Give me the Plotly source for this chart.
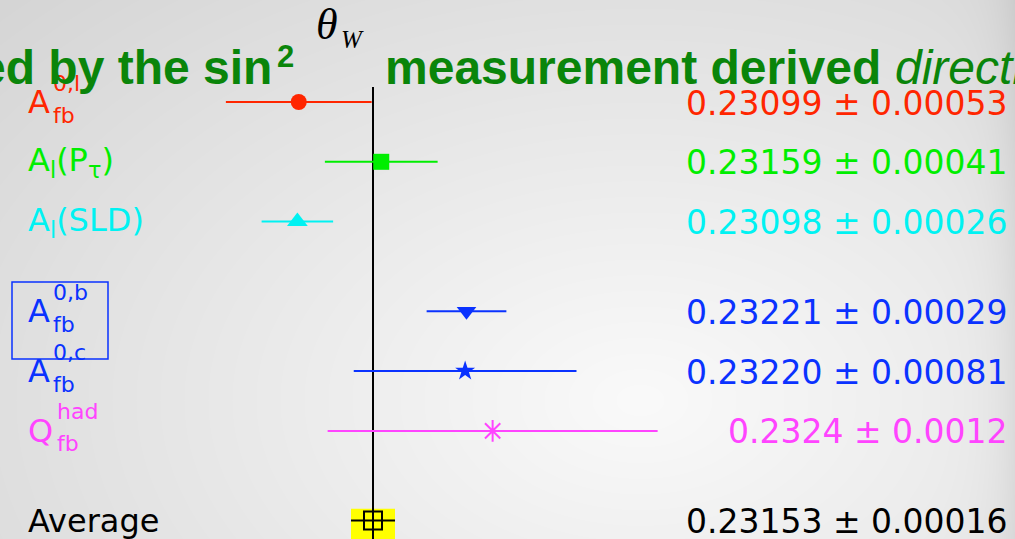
import base64
import struct
import zlib

import numpy as np
import plotly.graph_objects as go

# ---- data -------------------------------------------------------------
measurements = ["A_fb^0,l", "A_l(P_tau)", "A_l(SLD)", "A_fb^0,b", "A_fb^0,c", "Q_fb^had", "Average"]
values = [0.23099, 0.23159, 0.23098, 0.23221, 0.23220, 0.2324, 0.23153]
errors = [0.00053, 0.00041, 0.00026, 0.00029, 0.00081, 0.0012, 0.00016]
decimals = [5, 5, 5, 5, 5, 4, 5]

# label pieces: (main text, superscript, subscript)
label_parts = [
    ("A", "0,l", "fb"),
    ("A<sub>l</sub>(P<sub>τ</sub>)", None, None),
    ("A<sub>l</sub>(SLD)", None, None),
    ("A", "0,b", "fb"),
    ("A", "0,c", "fb"),
    ("Q", "had", "fb"),
    ("Average", None, None),
]

# ---- layout / style ----------------------------------------------------
W, H = 1015, 539
row_pos = [0, 1, 2, 3.5, 4.5, 5.5, 7]
colors = ["#ff2600", "#00ee00", "#00f2f2", "#0a32ff", "#0a32ff", "#ff44ff", "#000000"]
markers = [
    dict(symbol="circle", size=16),
    dict(symbol="square", size=16),
    dict(symbol="triangle-up", size=18),
    dict(symbol="triangle-down", size=17),
    dict(symbol="star", size=15),
    dict(symbol="asterisk-open", size=18, line=dict(width=2)),
]
GREEN = "#0a850a"
SANS = "DejaVu Sans"


def px_x(x):
    return x / W


def px_y(y):
    return 1 - y / H


def gray_png(arr):
    h, w = arr.shape
    raw = b"".join(b"\x00" + arr[i].tobytes() for i in range(h))

    def chunk(tag, data):
        c = struct.pack(">I", len(data)) + tag + data
        return c + struct.pack(">I", zlib.crc32(tag + data) & 0xFFFFFFFF)

    return (b"\x89PNG\r\n\x1a\n"
            + chunk(b"IHDR", struct.pack(">IIBBBBB", w, h, 8, 0, 0, 0, 0))
            + chunk(b"IDAT", zlib.compress(raw, 9))
            + chunk(b"IEND", b""))


# soft radial grey backdrop, lightest a little right of centre
yy, xx = np.mgrid[0:H, 0:W].astype(float)
d = np.sqrt(((xx - 640) / 720) ** 2 + ((yy - 400) / 470) ** 2)
shade = 250 - 30 * d - 16 * np.exp(-(W - xx) / 22.0)
bg = np.clip(shade, 0, 255).astype(np.uint8)
bg_uri = "data:image/png;base64," + base64.b64encode(gray_png(bg)).decode()

fig = go.Figure()

avg_val, avg_err = values[-1], errors[-1]
avg_row = row_pos[-1]

for i in range(len(values) - 1):
    fig.add_trace(go.Scatter(
        x=[values[i]], y=[row_pos[i]], mode="markers",
        marker=dict(color=colors[i], **markers[i]),
        error_x=dict(type="data", array=[errors[i]], color=colors[i], thickness=2, width=0),
        showlegend=False, hoverinfo="skip",
    ))

# average: yellow error band, black bar and open square
fig.add_shape(type="rect", xref="x", yref="y",
              x0=avg_val - avg_err, x1=avg_val + avg_err,
              y0=avg_row - 0.2, y1=avg_row + 0.4,
              fillcolor="#ffff00", line=dict(width=0), layer="below")
fig.add_shape(type="line", xref="x", yref="y",
              x0=avg_val, x1=avg_val, y0=-0.25, y1=avg_row + 0.5,
              line=dict(color="black", width=2), layer="below")
fig.add_trace(go.Scatter(
    x=[avg_val], y=[avg_row], mode="markers",
    marker=dict(symbol="square-open", size=18, color="black", line=dict(width=2)),
    error_x=dict(type="data", array=[avg_err], color="black", thickness=2, width=0),
    showlegend=False, hoverinfo="skip",
))

annotations = []

# left-hand labels
for i, (main, sup, sub) in enumerate(label_parts):
    c = colors[i]
    annotations.append(dict(x=px_x(26), xref="paper", y=row_pos[i], yref="y",
                            xanchor="left", yanchor="middle", text=main, showarrow=False,
                            font=dict(family=SANS, size=32, color=c)))
    off = 55 if main == "Q" else 51
    if sup:
        annotations.append(dict(x=px_x(off), xref="paper", y=row_pos[i], yref="y", yshift=19,
                                xanchor="left", yanchor="middle", text=sup, showarrow=False,
                                font=dict(family=SANS, size=22, color=c)))
    if sub:
        annotations.append(dict(x=px_x(off), xref="paper", y=row_pos[i], yref="y", yshift=-13,
                                xanchor="left", yanchor="middle", text=sub, showarrow=False,
                                font=dict(family=SANS, size=22, color=c)))

# right-hand value strings
for i, v in enumerate(values):
    nd = decimals[i]
    txt = f"{v:.{nd}f} ± {errors[i]:.{nd}f}"
    annotations.append(dict(x=px_x(1010), xref="paper", y=row_pos[i], yref="y", yshift=-1,
                            xanchor="right", yanchor="middle", text=txt, showarrow=False,
                            font=dict(family=SANS, size=33, color=colors[i])))

# heading text across the top
annotations += [
    dict(x=px_x(274), y=px_y(68), xref="paper", yref="paper", xanchor="right", yanchor="middle",
         text="ed by the sin", showarrow=False,
         font=dict(family="Liberation Sans", size=48, color=GREEN, weight="bold")),
    dict(x=px_x(275), y=px_y(57), xref="paper", yref="paper", xanchor="left", yanchor="middle",
         text="2", showarrow=False,
         font=dict(family="Liberation Sans", size=31, color=GREEN, weight="bold")),
    dict(x=px_x(314), y=px_y(24), xref="paper", yref="paper", xanchor="left", yanchor="middle",
         text="θ", showarrow=False,
         font=dict(family="Liberation Serif", size=44, color="black", style="italic")),
    dict(x=px_x(339), y=px_y(40), xref="paper", yref="paper", xanchor="left", yanchor="middle",
         text="W", showarrow=False,
         font=dict(family="Liberation Serif", size=25, color="black", style="italic")),
    dict(x=px_x(383), y=px_y(68), xref="paper", yref="paper", xanchor="left", yanchor="middle",
         text="measurement derived", showarrow=False,
         font=dict(family="Liberation Sans", size=48, color=GREEN, weight="bold")),
    dict(x=px_x(893), y=px_y(68), xref="paper", yref="paper", xanchor="left", yanchor="middle",
         text="directly", showarrow=False,
         font=dict(family="Liberation Sans", size=48, color=GREEN, style="italic")),
]

# frame around the b-quark label
fig.add_shape(type="rect", xref="paper", yref="paper",
              x0=px_x(12), x1=px_x(108), y0=px_y(359), y1=px_y(282),
              line=dict(color="#0a32ff", width=1.5))

# axis ranges chosen so the scale runs edge to edge
px_per_unit = 137500.0
x_left = avg_val - 373 / px_per_unit
x_right = x_left + W / px_per_unit
row_px = 59.8
y_top = -102 / row_px
y_bot = y_top + H / row_px

fig.update_layout(
    width=W, height=H,
    margin=dict(l=0, r=0, t=0, b=0),
    paper_bgcolor="#e6e6e6",
    plot_bgcolor="rgba(0,0,0,0)",
    xaxis=dict(range=[x_left, x_right], visible=False, fixedrange=True),
    yaxis=dict(range=[y_bot, y_top], visible=False, fixedrange=True),
    images=[dict(source=bg_uri, xref="paper", yref="paper", x=0, y=1, sizex=1, sizey=1,
                 xanchor="left", yanchor="top", sizing="stretch", layer="below")],
    annotations=annotations,
    showlegend=False,
)

fig.write_html("out.html", config=dict(displayModeBar=False))
